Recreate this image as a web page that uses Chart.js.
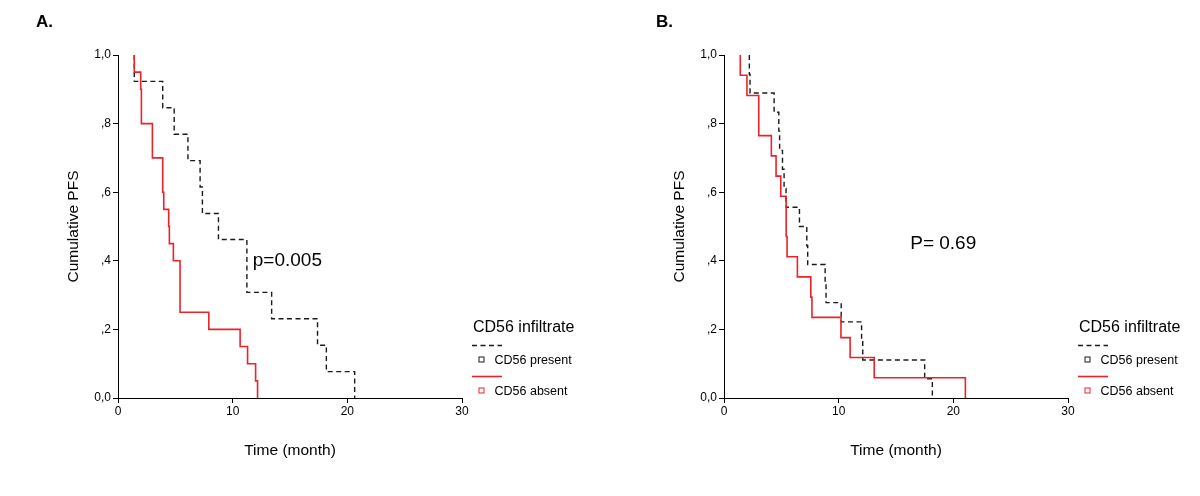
<!DOCTYPE html>
<html>
<head>
<meta charset="utf-8">
<script src="https://cdn.jsdelivr.net/npm/chart.js@4.4.1/dist/chart.umd.min.js"></script>
<style>
html,body{margin:0;padding:0;background:#fff;overflow:hidden;width:1200px;height:496px;}
.panel{position:absolute;top:0;width:600px;height:496px;}
canvas{display:block;}
</style>
</head>
<body>
<div class="panel" style="left:0px"><canvas id="cA" width="600" height="496"></canvas></div>
<div class="panel" style="left:606px"><canvas id="cB" width="600" height="496"></canvas></div>
<script>
// ---- Data ----
const seriesNames = ['CD56 present', 'CD56 absent'];
const legendTitle = 'CD56 infiltrate';
const yTickLabels = ['0,0', ',2', ',4', ',6', ',8', '1,0'];
const xTickValues = [0, 10, 20, 30];
const xTitle = 'Time (month)';
const yTitle = 'Cumulative PFS';

// Panel A
const timesPresentA = [1.42, 1.42, 3.9, 4.9, 6.1, 7.16, 7.36, 8.76, 11.24, 13.4, 17.4, 18.17, 20.64];
const survPresentA  = [1.0, 0.923, 0.846, 0.769, 0.692, 0.615, 0.538, 0.462, 0.308, 0.231, 0.154, 0.077, 0];
const timesAbsentA  = [1.42, 1.42, 1.98, 2.04, 3.0, 3.9, 3.99, 4.42, 4.48, 4.83, 5.41, 7.92, 10.65, 11.3, 12.0, 12.17];
const survAbsentA   = [1.0, 0.95, 0.90, 0.80, 0.70, 0.60, 0.55, 0.50, 0.45, 0.40, 0.25, 0.20, 0.15, 0.10, 0.05, 0];
const pTextA = 'p=0.005';

// Panel B
const timesPresentB = [2.21, 2.21, 2.27, 4.37, 4.78, 4.85, 5.1, 5.24, 5.41, 6.58, 7.22, 7.3, 8.82, 8.9, 10.22, 12.0, 12.1, 17.5, 18.17];
const survPresentB  = [1.0, 0.944, 0.889, 0.833, 0.778, 0.722, 0.667, 0.611, 0.556, 0.5, 0.444, 0.389, 0.333, 0.278, 0.222, 0.167, 0.111, 0.056, 0];
const timesAbsentB  = [1.42, 1.42, 2.0, 3.03, 4.13, 4.54, 4.95, 5.42, 5.5, 6.4, 7.57, 7.67, 10.2, 11.0, 13.1, 21.05];
const survAbsentB   = [1.0, 0.941, 0.882, 0.765, 0.706, 0.647, 0.588, 0.471, 0.412, 0.353, 0.294, 0.235, 0.176, 0.118, 0.059, 0];
const pTextB = 'P= 0.69';

// ---- Styling ----
const FONT = "'Liberation Sans', Arial, Helvetica, sans-serif";
Chart.defaults.font.family = FONT;
Chart.defaults.color = '#000';
const RED = '#e8242a';
const BLACK = '#1a1a1a';

function zip(ts, ss) { return ts.map((t, i) => ({x: t, y: ss[i]})); }

const annotate = {
  id: 'annotate',
  afterDraw(chart, args, opts) {
    const {ctx, chartArea, scales} = chart;
    ctx.save();
    ctx.fillStyle = '#000';
    ctx.textAlign = 'left';
    // panel label
    ctx.font = 'bold 17px ' + FONT;
    ctx.textBaseline = 'alphabetic';
    ctx.fillText(opts.panel, opts.panelX, 27);
    // p value
    ctx.font = '19px ' + FONT;
    ctx.textBaseline = 'middle';
    ctx.fillText(opts.pText, scales.x.getPixelForValue(opts.pAt[0]), scales.y.getPixelForValue(opts.pAt[1]));
    // legend
    const lx = chartArea.right + opts.legendDx;
    ctx.font = '16px ' + FONT;
    ctx.fillText(legendTitle, lx + 1, 328);
    chart.data.datasets.forEach((ds, i) => {
      const y0 = 345.5 + i * 31;
      ctx.strokeStyle = ds.borderColor;
      ctx.lineWidth = ds.borderWidth;
      ctx.setLineDash(ds.borderDash || []);
      ctx.beginPath(); ctx.moveTo(lx, y0); ctx.lineTo(lx + 30, y0); ctx.stroke();
      ctx.setLineDash([]);
      ctx.lineWidth = 1;
      const cx = Math.round(lx + 9) + 0.5, cy = Math.round(y0 + 13) + 0.5;
      ctx.strokeRect(cx - 2.5, cy - 2.5, 5, 5);
      ctx.fillStyle = '#000';
      ctx.font = '12.5px ' + FONT;
      ctx.fillText(ds.label, lx + 22.5, y0 + 15.5);
    });
    ctx.restore();
  }
};

function makeChart(id, present, absent, pText, pAt, panel, panelX, legendDx) {
  return new Chart(document.getElementById(id), {
    type: 'line',
    data: {
      datasets: [
        {label: seriesNames[0], data: present, borderColor: BLACK, borderWidth: 1.4, borderDash: [5, 3.5],
         stepped: 'before', pointRadius: 0, fill: false, order: 2},
        {label: seriesNames[1], data: absent, borderColor: RED, borderWidth: 1.6,
         stepped: 'before', pointRadius: 0, fill: false, order: 1}
      ]
    },
    options: {
      responsive: false,
      animation: false,
      events: [],
      layout: {padding: {left: 60, right: 138, top: 55, bottom: 32}},
      plugins: {
        legend: {display: false},
        tooltip: {enabled: false},
        annotate: {pText, pAt, panel, panelX, legendDx}
      },
      scales: {
        x: {
          type: 'linear', min: 0, max: 30,
          afterFit: s => { s.height = 66; },
          afterBuildTicks: s => { s.ticks = xTickValues.map(v => ({value: v})); },
          ticks: {font: {size: 12}, padding: 1, color: '#000', maxRotation: 0},
          grid: {display: true, drawOnChartArea: false, drawTicks: true, tickLength: 5, color: '#000', lineWidth: 1},
          border: {display: true, color: '#000', width: 1},
          title: {display: true, text: xTitle, font: {size: 15.5}, color: '#000', padding: 4}
        },
        y: {
          type: 'linear', min: 0, max: 1,
          afterFit: s => { s.width = 58; },
          ticks: {stepSize: 0.2, font: {size: 12}, padding: 2, color: '#000',
                  callback: v => yTickLabels[Math.round(v * 5)]},
          grid: {display: true, drawOnChartArea: false, drawTicks: true, tickLength: 5, color: '#000', lineWidth: 1},
          border: {display: true, color: '#000', width: 1},
          title: {display: true, text: yTitle, font: {size: 15.5}, color: '#000', padding: 4}
        }
      }
    },
    plugins: [annotate]
  });
}

makeChart('cA', zip(timesPresentA, survPresentA), zip(timesAbsentA, survAbsentA), pTextA, [11.75, 0.40], 'A.', 36, 10);
makeChart('cB', zip(timesPresentB, survPresentB), zip(timesAbsentB, survAbsentB), pTextB, [16.24, 0.451], 'B.', 50, 10);
</script>
</body>
</html>
